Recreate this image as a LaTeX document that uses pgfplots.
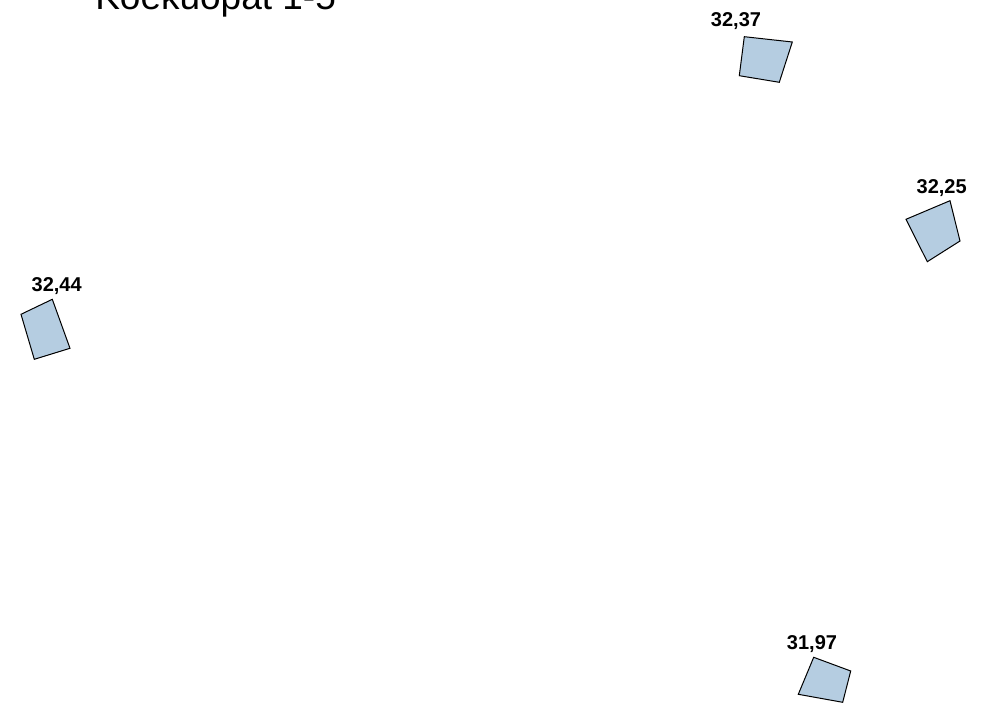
\documentclass[border=0pt]{standalone}
\usepackage{pgfplots}
\pgfplotsset{compat=1.18}
\usepackage{fontspec}
\setmainfont{Liberation Sans}
\definecolor{cubefill}{RGB}{181,205,225}
\begin{document}
\begin{tikzpicture}[x=0.75pt,y=0.75pt]
\begin{axis}[
  at={(0,0)}, anchor=south west,
  scale only axis, width=750.75pt, height=531pt,
  xmin=0, xmax=1001, ymin=0, ymax=708,
  axis lines=none, clip=false,
]
\addplot[draw=black, line width=0.75pt, fill=cubefill] coordinates {(744.3,671.3) (792.3,666) (779.3,625.7) (739.3,632.3)} --cycle;
\addplot[draw=black, line width=0.75pt, fill=cubefill] coordinates {(906,488.7) (950,507.3) (960,467) (927.3,446.3)} --cycle;
\addplot[draw=black, line width=0.75pt, fill=cubefill] coordinates {(21,393.7) (52.3,408.7) (70,359.7) (34.3,348.7)} --cycle;
\addplot[draw=black, line width=0.75pt, fill=cubefill] coordinates {(813.7,50.7) (850.7,37) (842.7,5.7) (798.3,13.7)} --cycle;
\addplot[only marks, mark=none, point meta=explicit symbolic,
  nodes near coords={\pgfplotspointmeta},
  every node near coord/.style={anchor=base, inner sep=0pt, font=\bfseries\fontsize{15}{18}\selectfont}]
  coordinates {(736,681.3)[32,37] (941.7,514.7)[32,25] (56.7,416.3)[32,44] (812,58.7)[31,97]};
\node[anchor=base west, inner sep=0pt, font=\fontsize{27.75}{33}\selectfont] at (axis cs:95,698.5) {Koekuopat 1-5};
\end{axis}
\pgfresetboundingbox
\path[use as bounding box] (0,0) rectangle (1001,708);
\end{tikzpicture}
\end{document}
